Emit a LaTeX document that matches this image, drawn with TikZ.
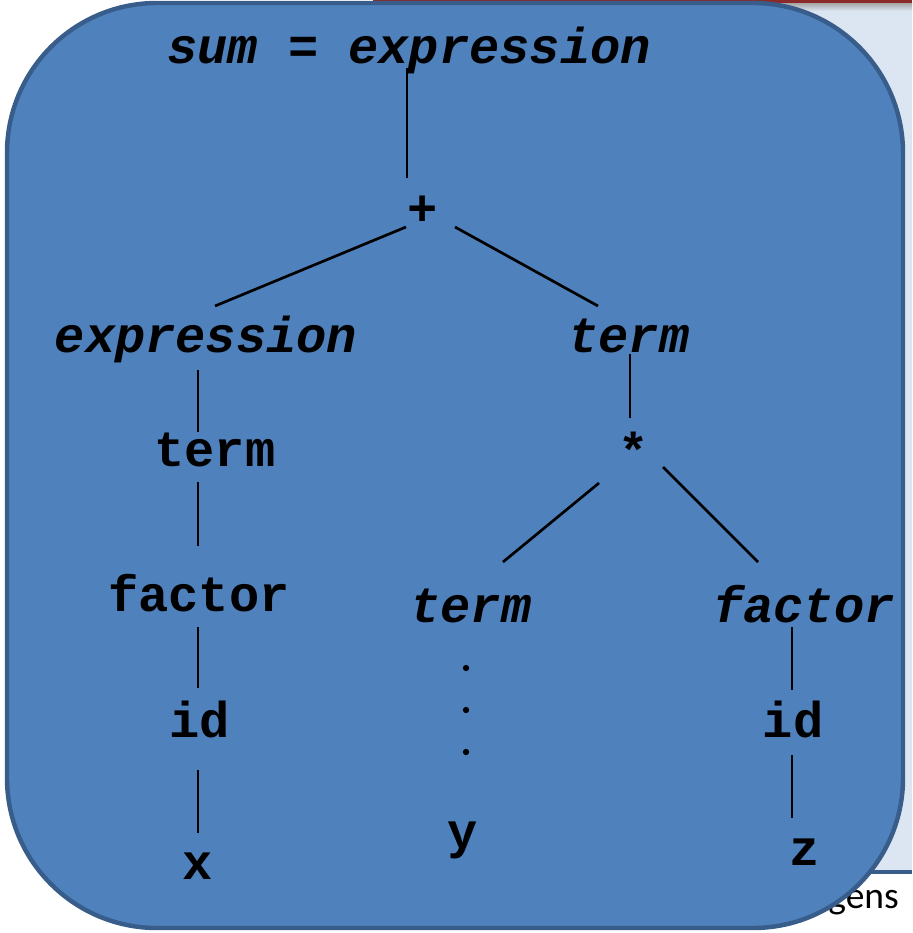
\documentclass[tikz,border=0pt]{standalone}
\usepackage{fontspec}
\setmonofont{Liberation Mono}
\setsansfont{Carlito}
\usetikzlibrary{calc}
\definecolor{boxblue}{RGB}{79,129,189}
\definecolor{boxedge}{RGB}{56,93,138}
\definecolor{panelblue}{RGB}{220,230,242}
\definecolor{slidered}{RGB}{140,42,42}

\begin{document}
\begin{tikzpicture}[x=0.03cm, y=-0.03cm,
        sym/.style={font=\fontsize{43}{50}\selectfont\ttfamily\bfseries, inner sep=0pt, anchor=base},
        nt/.style={sym, font=\fontsize{43}{50}\selectfont\ttfamily\bfseries\itshape},
        op/.style={sym, anchor=center},
        edge/.style={line width=2.3pt}]
        \useasboundingbox (0,0) rectangle (912,933);
        % slide behind the box
        \fill[panelblue] (373,3) rectangle (912,872);
        \shade[top color=gray!70, bottom color=panelblue] (373,3) rectangle (912,11);
        \fill[slidered] (373,0) rectangle (912,3);
        \draw[boxedge, line width=2.6pt] (600,872) -- (912,872);
        \node[font=\sffamily\fontsize{32}{36}\selectfont, inner sep=0pt, anchor=base east] (gens) at (899,908) {gens};
        % the box
        \draw[line width=3.8pt, draw=boxedge, fill=boxblue, rounded corners=4.5cm] (7,3) rectangle (903,928);
        % tree
        \node[nt] (sum) at (409,64) {sum = expression};
        \node[op] (plus) at (423,211) {+};
        \node[nt] (expr) at (206,352) {expression};
        \node[nt] (termR) at (629,352) {term};
        \node[sym] (termL) at (215,466) {term};
        \node[op] (star) at (634,450) {*};
        \node[sym] (factL) at (199,611) {factor};
        \node[nt] (termM) at (471,622) {term};
        \node[nt] (factR) at (804,622) {factor};
        \node[sym] (idL) at (200,737) {id};
        \node[sym] (idR) at (793,737) {id};
        \node[sym] (x) at (198,879) {x};
        \node[sym] (y) at (463,848) {y};
        \node[sym] (z) at (805,865) {z};
        \foreach \yy in {668,710,752}
            \fill (466,\yy) circle[radius=2.7pt];
        \draw[edge] ($(sum.base)+(-2,4)$) -- ($(plus)+(-16,-33)$);
        \draw[edge] ($(plus)+(-17,16)$) -- ($(expr.base)+(9,-46)$);
        \draw[edge] ($(plus)+(32,16)$) -- ($(termR.base)+(-31,-46)$);
        \draw[edge] ($(expr.base)+(-8,18)$) -- ($(termL.base)+(-17,-34)$);
        \draw[edge] ($(termL.base)+(-17,16)$) -- ($(factL.base)+(-1,-65)$);
        \draw[edge] ($(factL.base)+(-1,16)$) -- ($(idL.base)+(-2,-49)$);
        \draw[edge] ($(idL.base)+(-2,33)$) -- ($(x.base)+(0,-46)$);
        \draw[edge] ($(termR.base)+(1,2)$) -- ($(star)+(-4,-32)$);
        \draw[edge] ($(star)+(-35,33)$) -- ($(termM.base)+(32,-60)$);
        \draw[edge] ($(star)+(29,17)$) -- ($(factR.base)+(-46,-60)$);
        \draw[edge] ($(factR.base)+(-12,5)$) -- ($(idR.base)+(-1,-47)$);
        \draw[edge] ($(idR.base)+(-1,18)$) -- ($(z.base)+(-13,-47)$);
\end{tikzpicture}
\end{document}
